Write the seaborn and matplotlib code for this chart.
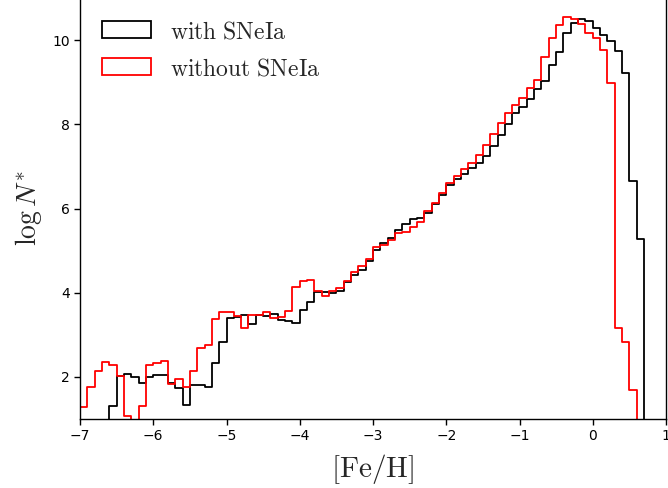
import numpy as np
import pandas as pd
import matplotlib
matplotlib.use("Agg")
import matplotlib.pyplot as plt
from matplotlib.patches import Patch
import seaborn as sns

# Metallicity bins: 0.1 dex wide, from [Fe/H] = -7.0 to 0.8
bin_width = 0.1
bin_range = (-7.0, 0.8)
feh_centers = np.round(np.arange(-7.0, 0.8 - 1e-9, bin_width) + 0.05, 3)

# log N* per bin, model including type Ia supernovae
logn_with_snia = [
    0, 0, 0, 0, 1.30, 2.02, 2.07, 1.99, 1.86, 2.00,
    2.05, 2.04, 1.85, 1.74, 1.33, 1.80, 1.80, 1.75, 2.34, 2.82,
    3.41, 3.42, 3.46, 3.25, 3.48, 3.45, 3.49, 3.36, 3.33, 3.29,
    3.59, 3.79, 4.01, 4.01, 3.99, 4.03, 4.25, 4.43, 4.55, 4.76,
    5.02, 5.18, 5.30, 5.48, 5.62, 5.74, 5.78, 5.90, 6.10, 6.33,
    6.55, 6.71, 6.83, 6.96, 7.09, 7.25, 7.48, 7.74, 8.01, 8.26,
    8.42, 8.60, 8.83, 9.03, 9.40, 9.71, 10.17, 10.40, 10.49, 10.45,
    10.29, 10.11, 9.98, 9.75, 9.21, 6.65, 5.28, 0,
]

# log N* per bin, model without type Ia supernovae
logn_without_snia = [
    1.28, 1.77, 2.14, 2.35, 2.28, 2.03, 1.06, 0, 1.30, 2.28,
    2.33, 2.37, 1.84, 1.96, 1.75, 2.13, 2.68, 2.75, 3.38, 3.55,
    3.55, 3.45, 3.17, 3.47, 3.48, 3.53, 3.41, 3.43, 3.56, 4.14,
    4.28, 4.29, 4.05, 3.91, 4.03, 4.11, 4.27, 4.48, 4.63, 4.79,
    5.08, 5.14, 5.25, 5.42, 5.45, 5.55, 5.67, 5.95, 6.13, 6.37,
    6.60, 6.77, 6.93, 7.07, 7.28, 7.50, 7.77, 8.04, 8.28, 8.46,
    8.63, 8.87, 9.05, 9.60, 10.05, 10.37, 10.54, 10.50, 10.39, 10.18,
    10.05, 9.77, 8.99, 3.17, 2.82, 1.69, 0, 0,
]

series_labels = ["with SNeIa", "without SNeIa"]
series_colors = ["#000000", "#ff0000"]

df = pd.concat([
    pd.DataFrame({"feh": feh_centers, "logn": logn_with_snia, "model": series_labels[0]}),
    pd.DataFrame({"feh": feh_centers, "logn": logn_without_snia, "model": series_labels[1]}),
], ignore_index=True)

sns.set_style("ticks")
plt.rcParams["mathtext.fontset"] = "cm"
plt.rcParams["font.family"] = ["DejaVu Sans"]

fig = plt.figure(figsize=(6.68, 4.88), dpi=100)
ax = fig.add_axes([80 / 668, 69 / 488, 586 / 668, 421 / 488])

for label, color in zip(series_labels, series_colors):
    sns.histplot(
        data=df[df["model"] == label], x="feh", weights="logn",
        binwidth=bin_width, binrange=bin_range, element="step", fill=False,
        color=color, linewidth=1.3, ax=ax,
    )

ax.set_xlim(-7, 1)
ax.set_ylim(1, 11)
ax.set_xticks(np.arange(-7, 2, 1))
ax.set_yticks([2, 4, 6, 8, 10])
ax.tick_params(axis="both", labelsize=10, length=4, width=1, direction="out", colors="black")
for side in ["left", "bottom", "right", "top"]:
    ax.spines[side].set_visible(True)
    ax.spines[side].set_color("black")
    ax.spines[side].set_linewidth(1.0)

ax.set_xlabel(r"$[\mathrm{Fe/H}]$", fontsize=21, labelpad=6)
ax.set_ylabel(r"$\log N^{*}$", fontsize=20, labelpad=6)

handles = [Patch(facecolor="none", edgecolor=c, linewidth=1.3) for c in series_colors]
ax.legend(
    handles, [r"$\mathrm{with\ SNeIa}$", r"$\mathrm{without\ SNeIa}$"],
    loc="upper left", bbox_to_anchor=(0.037, 0.950), frameon=False,
    fontsize=17, handlelength=2.08, handleheight=0.72, handletextpad=0.82,
    labelspacing=0.55, borderpad=0.0, borderaxespad=0.0,
)

fig.savefig("out.png", dpi=100)
